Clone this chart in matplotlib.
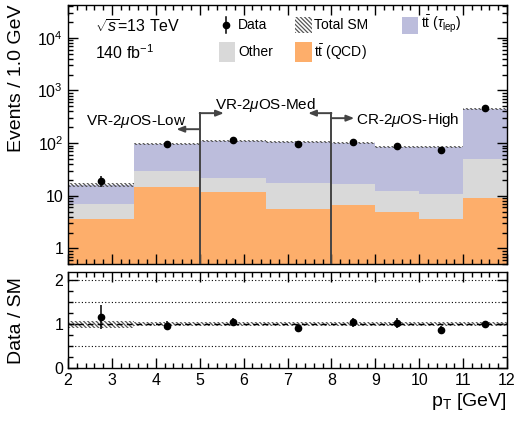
import numpy as np
import matplotlib
matplotlib.use("Agg")
import matplotlib.pyplot as plt
from matplotlib.patches import Rectangle
from matplotlib.ticker import MultipleLocator, LogLocator, FixedLocator, NullFormatter, FixedFormatter

plt.rcParams['font.family'] = ['Liberation Sans', 'DejaVu Sans']
plt.rcParams['mathtext.fontset'] = 'custom'
plt.rcParams['mathtext.rm'] = 'Liberation Sans'
plt.rcParams['mathtext.it'] = 'Liberation Sans:italic'
plt.rcParams['mathtext.bf'] = 'Liberation Sans:bold'
plt.rcParams['hatch.linewidth'] = 0.9

# ---- binning and yields ----
bin_edges = [2.0, 3.5, 5.0, 6.5, 8.0, 9.0, 10.0, 11.0, 12.0]
ttbar_qcd = [3.6, 14.8, 11.7, 5.65, 6.6, 4.9, 3.6, 9.1]
other = [3.3, 14.6, 9.9, 11.75, 10.0, 7.5, 7.1, 40.9]
ttbar_taulep = [9.4, 68.6, 87.4, 86.6, 82.4, 72.6, 74.3, 400.0]
sm_rel_unc = [0.085, 0.045, 0.045, 0.045, 0.045, 0.045, 0.045, 0.045]
data_counts = [19.0, 95.0, 115.0, 95.0, 103.0, 88.0, 74.0, 456.0]
data_err = [4.4, 9.7, 10.7, 9.7, 10.1, 9.4, 8.6, 21.4]

col_qcd = '#FDAE6B'
col_other = '#D9D9D9'
col_tau = '#BCBDDC'
hatch_col = '#555555'
hatch_pat = '\\' * 8

edges = np.array(bin_edges)
centers = 0.5 * (edges[:-1] + edges[1:])
qcd = np.array(ttbar_qcd)
oth = np.array(other)
tau = np.array(ttbar_taulep)
total = qcd + oth + tau
unc = np.array(sm_rel_unc)
data = np.array(data_counts)
derr = np.array(data_err)

W, H = 515, 421
fig = plt.figure(figsize=(W / 100, H / 100), dpi=100)
ax = fig.add_axes([68 / W, 1 - 264.3 / H, 439 / W, 259.3 / H])
rax = fig.add_axes([68 / W, 1 - 368.3 / H, 439 / W, 96 / H])


def step(vals):
    return np.append(vals, vals[-1])


# ---- stacked histogram ----
lo = np.full_like(qcd, 0.5)
for base, top, c in [(lo, qcd, col_qcd),
                     (qcd, qcd + oth, col_other),
                     (qcd + oth, total, col_tau)]:
    ax.fill_between(edges, step(base), step(top), step='post', color=c, lw=0, zorder=1)

# total SM uncertainty band
for i in range(len(total)):
    ax.fill_between(edges[i:i + 2], total[i] * (1 - unc[i]), total[i] * (1 + unc[i]),
                    facecolor='none', edgecolor=hatch_col, hatch=hatch_pat, lw=0, zorder=2)

ax.errorbar(centers, data, yerr=derr, fmt='o', color='black', ms=4.5, lw=1.1,
            capsize=0, zorder=5)

ax.set_xlim(2, 12)
ax.set_yscale('log')
ax.set_ylim(0.5, 4.2e4)
ax.yaxis.set_major_locator(FixedLocator([1, 10, 100, 1e3, 1e4]))
ax.yaxis.set_major_formatter(FixedFormatter(['1', '10', r'$10^{2}$', r'$10^{3}$', r'$10^{4}$']))
ax.yaxis.set_minor_locator(LogLocator(base=10, subs=np.arange(2, 10), numticks=20))
ax.yaxis.set_minor_formatter(NullFormatter())
ax.xaxis.set_major_locator(MultipleLocator(1))
ax.xaxis.set_minor_locator(MultipleLocator(0.2))
ax.tick_params(labelbottom=False)
ax.set_ylabel('Events / 1.0 GeV', fontsize=14, loc='top', labelpad=4)

# ---- region boundaries with arrows ----
line_col = '#444444'
ax.plot([5, 5], [0.5, 371], color=line_col, lw=1.4, zorder=6)
ax.plot([8, 8], [0.5, 371], color=line_col, lw=1.4, zorder=6)
arrow_kw = dict(arrowstyle='-|>,head_length=0.45,head_width=0.18', color=line_col, lw=1.4,
                shrinkA=0, shrinkB=0)
ax.annotate('', xy=(5.55, 371), xytext=(5.0, 371), arrowprops=arrow_kw, zorder=6)
ax.annotate('', xy=(4.47, 184), xytext=(5.0, 184), arrowprops=arrow_kw, zorder=6)
ax.annotate('', xy=(7.47, 371), xytext=(8.0, 371), arrowprops=arrow_kw, zorder=6)
ax.annotate('', xy=(8.52, 298), xytext=(8.0, 298), arrowprops=arrow_kw, zorder=6)

ax.text(2.41, 260, r'VR-2$\mu$OS-Low', fontsize=11, ha='left', va='center')
ax.text(6.5, 540, r'VR-2$\mu$OS-Med', fontsize=11, ha='center', va='center')
ax.text(8.56, 270, r'CR-2$\mu$OS-High', fontsize=11, ha='left', va='center')

# ---- legend and labels ----
T = ax.transAxes
ax.text(0.062, 0.915, r'$\sqrt{s}$=13 TeV', transform=T, fontsize=11.5, va='center')
ax.text(0.062, 0.815, r'140 fb$^{-1}$', transform=T, fontsize=11.5, va='center')

ax.plot([0.359], [0.923], 'o', color='black', ms=4.5, transform=T, clip_on=False)
ax.plot([0.359, 0.359], [0.892, 0.954], color='black', lw=1.1, transform=T)
ax.text(0.387, 0.923, 'Data', transform=T, fontsize=10, va='center')

ax.add_patch(Rectangle((0.517, 0.892), 0.038, 0.062, transform=T, facecolor='none',
                       edgecolor=hatch_col, hatch=hatch_pat, lw=0))
ax.text(0.560, 0.923, 'Total SM', transform=T, fontsize=10, va='center')

ax.add_patch(Rectangle((0.760, 0.888), 0.037, 0.066, transform=T, facecolor=col_tau, lw=0))
ax.text(0.803, 0.923, r'$\mathrm{t\bar{t}}$ ($\tau_{\mathrm{lep}}$)', transform=T, fontsize=10,
        va='center')

ax.add_patch(Rectangle((0.343, 0.780), 0.038, 0.077, transform=T, facecolor=col_other, lw=0))
ax.text(0.387, 0.819, 'Other', transform=T, fontsize=10, va='center')

ax.add_patch(Rectangle((0.517, 0.780), 0.038, 0.077, transform=T, facecolor=col_qcd, lw=0))
ax.text(0.560, 0.819, r'$\mathrm{t\bar{t}}$ (QCD)', transform=T, fontsize=10, va='center')

# ---- ratio panel ----
ratio = data / total
rerr = derr / total
for i in range(len(total)):
    rax.fill_between(edges[i:i + 2], 1 - unc[i], 1 + unc[i], facecolor='none',
                     edgecolor=hatch_col, hatch=hatch_pat, lw=0, zorder=2)
rax.axhline(1.0, color='black', lw=1.0, ls=(0, (4, 3)), zorder=3)
for yv in [0.5, 1.5, 2.0]:
    rax.axhline(yv, color='black', lw=0.8, ls=(0, (1, 2)), zorder=1)
rax.errorbar(centers, ratio, yerr=rerr, fmt='o', color='black', ms=4.5, lw=1.1,
             capsize=0, zorder=5)
rax.set_xlim(2, 12)
rax.set_ylim(0, 2.18)
rax.yaxis.set_major_locator(FixedLocator([0, 1, 2]))
rax.yaxis.set_minor_locator(MultipleLocator(0.25))
rax.xaxis.set_major_locator(MultipleLocator(1))
rax.xaxis.set_minor_locator(MultipleLocator(0.2))
rax.set_ylabel('Data / SM', fontsize=14, labelpad=12)
rax.yaxis.set_label_coords(-0.098, 0.5)
rax.set_xlabel(r'p$_{\mathrm{T}}$ [GeV]', fontsize=14, loc='right', labelpad=2)

for a in (ax, rax):
    a.tick_params(which='both', direction='in', top=True, right=True, labelsize=11.5,
                  width=1.0, color='black')
    a.tick_params(which='major', length=7)
    a.tick_params(which='minor', length=3.5)
    for s in a.spines.values():
        s.set_linewidth(1.0)
ax.yaxis.set_label_coords(-0.098, 1.0)

fig.savefig('out.png', dpi=100)
